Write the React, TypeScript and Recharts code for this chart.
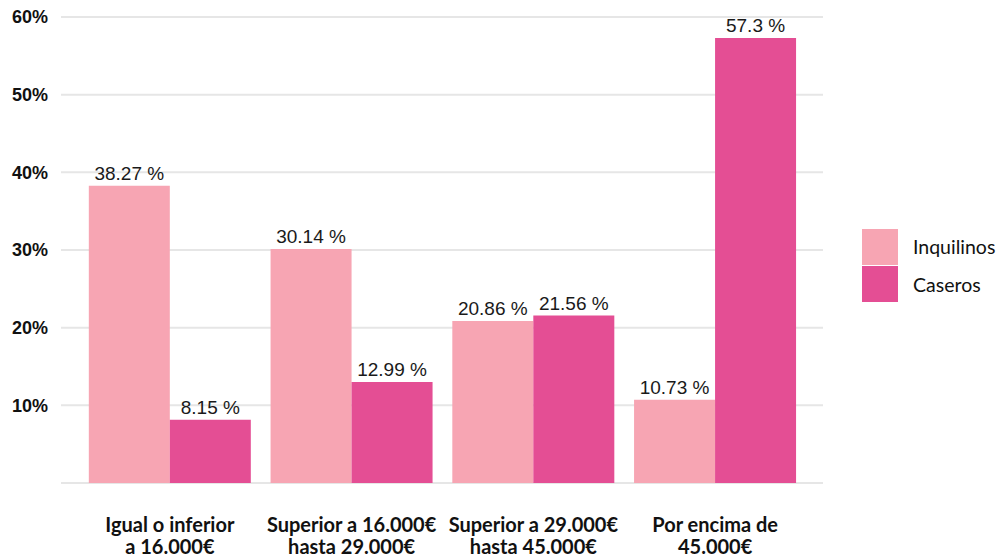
import React from 'react';
import { BarChart, Bar, XAxis, YAxis, CartesianGrid, Legend, LabelList } from 'recharts';

const categories = [
  'Igual o inferior\na 16.000€',
  'Superior a 16.000€\nhasta 29.000€',
  'Superior a 29.000€\nhasta 45.000€',
  'Por encima de\n45.000€',
];
const inquilinos = [38.27, 30.14, 20.86, 10.73];
const caseros = [8.15, 12.99, 21.56, 57.3];
const yTicks = [10, 20, 30, 40, 50, 60];

const COLOR_INQ = '#F7A5B3';
const COLOR_CAS = '#E44E94';

const data = categories.map((c, i) => ({ name: c, Inquilinos: inquilinos[i], Caseros: caseros[i] }));

const XTick = (props: any) => {
  const { x, y, payload } = props;
  const lines = String(payload.value).split('\n');
  return (
    <g>
      {lines.map((l, i) => (
        <text
          key={i}
          x={x}
          y={y + 47 + i * 22}
          textAnchor="middle"
          fontFamily="Lato"
          fontWeight={700}
          fontSize={20}
          fill="#111"
        >
          {l}
        </text>
      ))}
    </g>
  );
};

const LegendContent = () => (
  <div style={{ fontFamily: 'Lato', fontSize: 19.5, color: '#111' }}>
    {[['Inquilinos', COLOR_INQ], ['Caseros', COLOR_CAS]].map(([n, c]) => (
      <div key={n} style={{ display: 'flex', alignItems: 'center', height: 37.5 }}>
        <div style={{ width: 36, height: 36, background: c, marginRight: 15 }} />
        <span>{n}</span>
      </div>
    ))}
  </div>
);

export default function App() {
  return (
    <div style={{ position: 'absolute', left: 0, top: 0, width: 1002, height: 558, background: '#fff' }}>
      <BarChart
        width={1002}
        height={558}
        data={data}
        margin={{ top: 17, right: 39, bottom: 0, left: 0 }}
        barCategoryGap="5.4%"
        barGap={0}
      >
        <CartesianGrid vertical={false} stroke="#E6E6E6" strokeWidth={2} />
        <XAxis
          dataKey="name"
          interval={0}
          axisLine={false}
          tickLine={false}
          tickSize={0}
          padding={{ left: 18, right: 17 }}
          height={75}
          tick={<XTick />}
        />
        <YAxis
          domain={[0, 60]}
          ticks={yTicks}
          width={61}
          axisLine={false}
          tickLine={false}
          tickSize={0}
          tickMargin={13}
          tickFormatter={(v: number) => `${v}%`}
          tick={{ fontFamily: 'Liberation Sans', fontWeight: 700, fontSize: 18, fill: '#111' }}
        />
        <Legend
          layout="vertical"
          align="right"
          verticalAlign="top"
          content={<LegendContent />}
          wrapperStyle={{ left: 862, top: 228, width: 140 }}
        />
        <Bar dataKey="Inquilinos" fill={COLOR_INQ} isAnimationActive={false}>
          <LabelList
            dataKey="Inquilinos"
            position="top"
            offset={6}
            formatter={(v: any) => `${v} %`}
            style={{ fontFamily: 'Liberation Sans', fontSize: 19, fill: '#1a1a1a' }}
          />
        </Bar>
        <Bar dataKey="Caseros" fill={COLOR_CAS} isAnimationActive={false}>
          <LabelList
            dataKey="Caseros"
            position="top"
            offset={6}
            formatter={(v: any) => `${v} %`}
            style={{ fontFamily: 'Liberation Sans', fontSize: 19, fill: '#1a1a1a' }}
          />
        </Bar>
      </BarChart>
    </div>
  );
}
